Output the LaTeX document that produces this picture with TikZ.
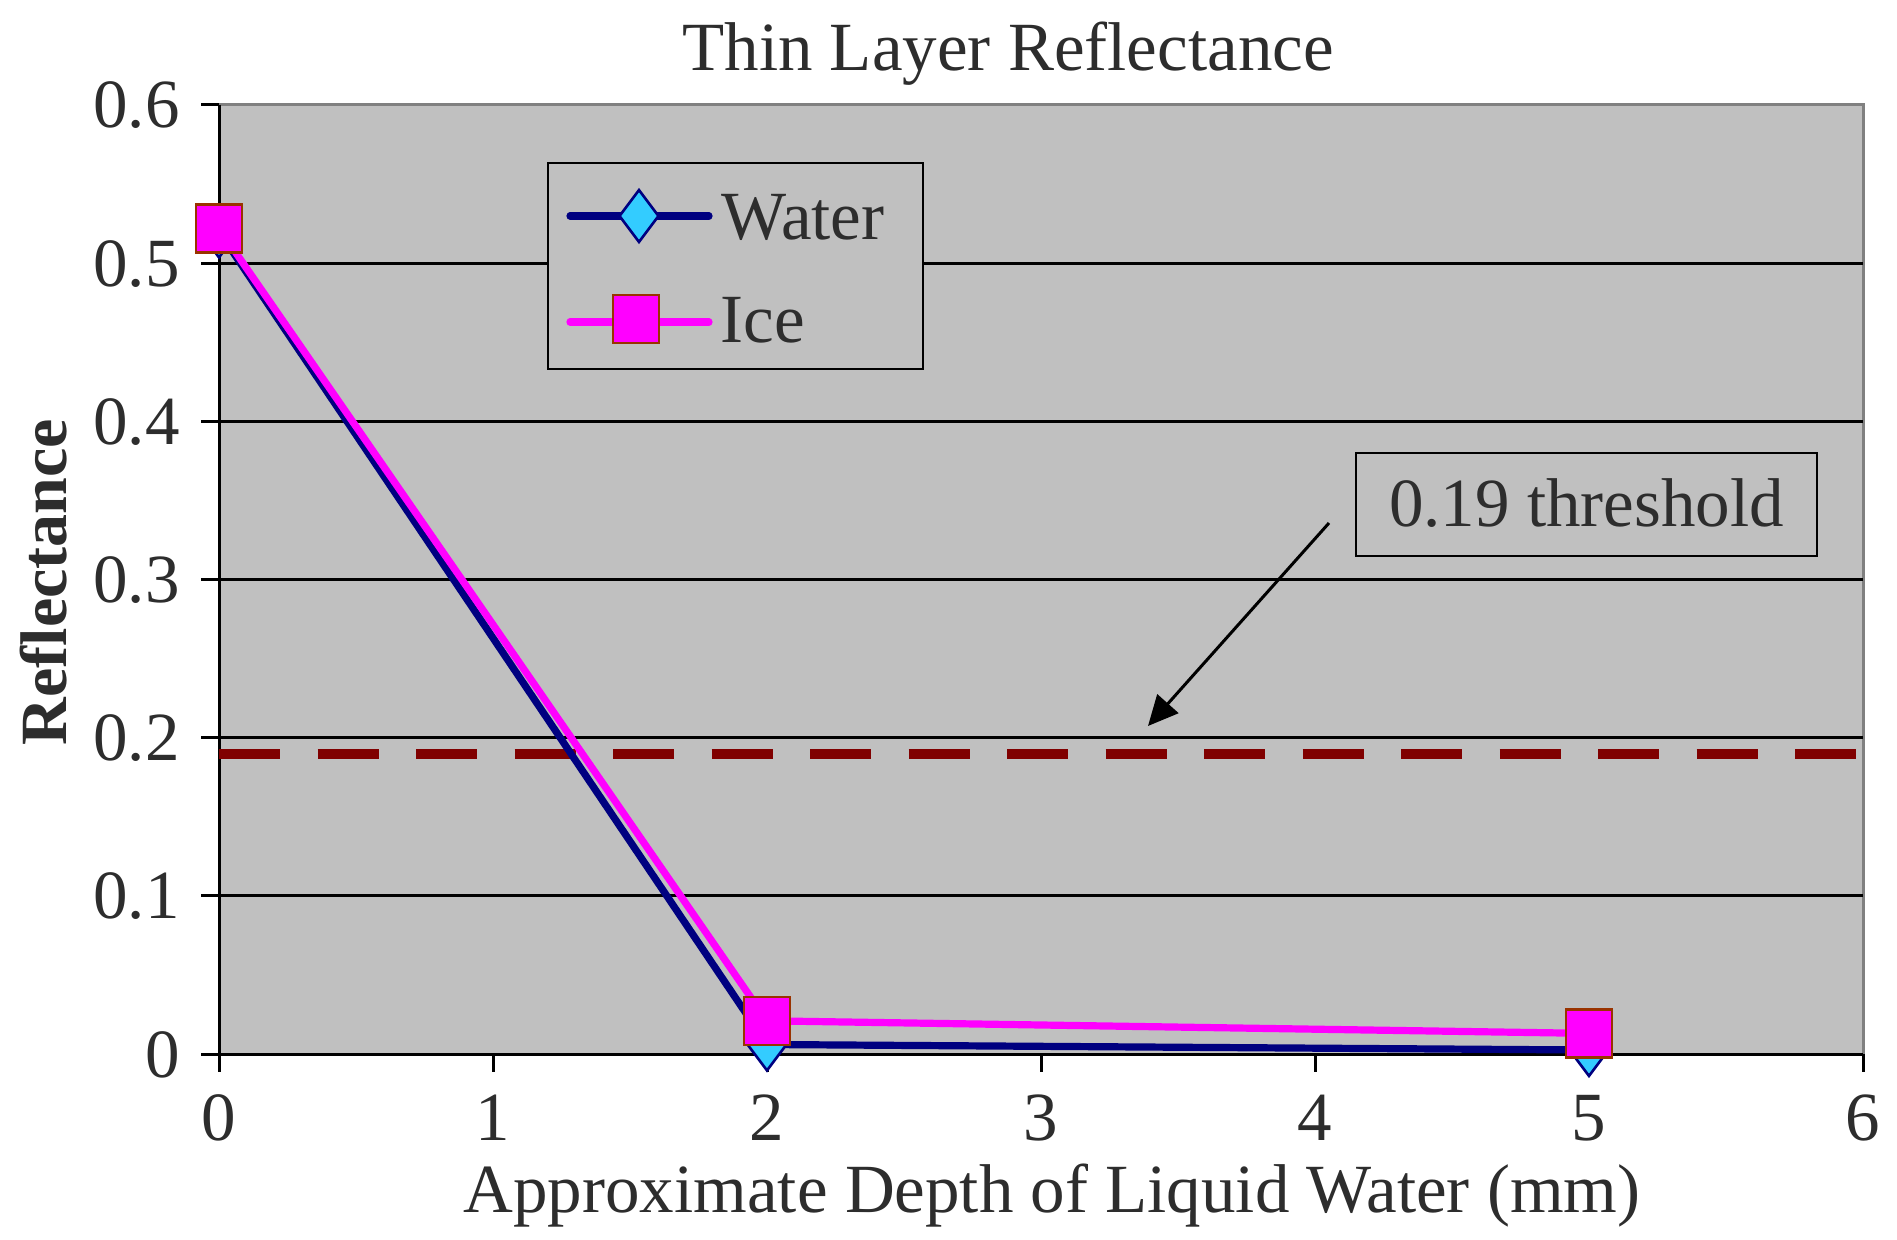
\documentclass[tikz,border=0pt]{standalone}
\usepackage{fontspec}
\setmainfont{Liberation Serif}
\usetikzlibrary{shapes.geometric,arrows.meta}
\definecolor{plotbg}{HTML}{C0C0C0}
\definecolor{framegray}{HTML}{808080}
\definecolor{txt}{HTML}{2D2D2D}
\definecolor{navyline}{HTML}{000080}
\definecolor{wfill}{HTML}{33CCFF}
\definecolor{iceline}{HTML}{FF00FF}
\definecolor{iceedge}{HTML}{993300}
\definecolor{thresh}{HTML}{800000}
\begin{document}
\begin{tikzpicture}[x=0.5pt,y=-0.5pt,
  lbl/.style={text=txt, inner sep=0, font=\fontsize{34.5pt}{40pt}\selectfont},
  gridln/.style={black, line width=1.4pt},
  axisln/.style={black, line width=1.5pt},
  waterln/.style={navyline, line width=3.6pt, line join=round},
  iceln/.style={iceline, line width=3.6pt, line join=round},
  wmark/.style={shape=diamond, draw=navyline, fill=wfill, line width=1.3pt, minimum width=20pt, minimum height=26.5pt, inner sep=0},
  imark/.style={shape=rectangle, draw=iceedge, fill=iceline, line width=1.3pt, minimum width=23pt, minimum height=24pt, inner sep=0},
  framebox/.style={draw=black, fill=plotbg, line width=1.3pt, inner sep=0},
  threshln/.style={thresh, line width=5pt, dash pattern=on 30.5pt off 18.75pt}
]
\useasboundingbox (0,0) rectangle (1897,1240);
\fill[white] (0,0) rectangle (1897,1240);
% plot area
\fill[plotbg] (219,105) rectangle (1863,1054);
\draw[framegray, line width=1.5pt] (219,105) -- (1863,105) -- (1863,1054);
% gridlines
\foreach \y in {895.8,737.7,579.5,421.3,263.2} {
  \draw[gridln] (219,\y) -- (1863,\y);
}
% axes and ticks
\draw[axisln] (219,105) -- (219,1072);
\draw[axisln] (201,1054) -- (1863,1054);
\foreach \y in {105,263.2,421.3,579.5,737.7,895.8} {
  \draw[axisln] (201,\y) -- (219,\y);
}
\foreach \x in {493,767,1041,1315,1589,1863} {
  \draw[axisln] (\x,1054) -- (\x,1072);
}
% tick labels
\foreach \y/\t in {1054/0,895.8/0.1,737.7/0.2,579.5/0.3,421.3/0.4,263.2/0.5,105/0.6} {
  \node[lbl, anchor=base east] at (180,\y+23) {\t};
}
\foreach \x/\t in {219/0,493/1,767/2,1041/3,1315/4,1589/5,1863/6} {
  \node[lbl, anchor=base] at (\x,1140) {\t};
}
% titles
\node[lbl, anchor=base] (title) at (1008,71) {Thin Layer Reflectance};
\node[lbl, anchor=base] (xlab) at (1052,1212) {Approximate Depth of Liquid Water (mm)};
\node[lbl, font=\fontsize{33pt}{38pt}\selectfont\bfseries, rotate=90, anchor=base] (ylab) at (66,582) {Reflectance};
% threshold line
\coordinate (thl) at (219,754);
\coordinate (thr2) at (1862,754);
\draw[threshln] (thl) -- (thr2);
% data
\coordinate (w0) at (219,231.5);
\coordinate (w2) at (767,1044.5);
\coordinate (w5) at (1589,1050);
\coordinate (i0) at (219,228.4);
\coordinate (i2) at (767,1020.8);
\coordinate (i5) at (1589,1033.4);
\draw[waterln] (w0) -- (w2) -- (w5);
\node[wmark] (mw0) at (w0) {};
\node[wmark] (mw2) at (w2) {};
\node[wmark] (mw5) at (w5) {};
\draw[iceln] (i0) -- (i2) -- (i5);
\node[imark] (mi0) at (i0) {};
\node[imark] (mi2) at (i2) {};
\node[imark] (mi5) at (i5) {};
% legend
\node[framebox, minimum width=187.5pt, minimum height=103pt] (legend) at (735.5,266) {};
\coordinate (lwa) at (570,216);
\coordinate (lwb) at (709,216);
\draw[waterln, line cap=round] (lwa) -- (lwb);
\node[wmark] (lwm) at (639,216) {};
\node[lbl, anchor=base west] (lwt) at (721,240) {Water};
\coordinate (lia) at (570,322);
\coordinate (lib) at (709,322);
\draw[iceln, line cap=round] (lia) -- (lib);
\node[imark] (lim) at (636,319) {};
\node[lbl, anchor=base west] (lit) at (720,343) {Ice};
% threshold label and arrow
\node[framebox, lbl, draw=black, fill=plotbg, line width=1.3pt, text height=23.5pt, text depth=1pt, minimum width=230.5pt, minimum height=51.5pt] (thr) at (1586.5,504.5) {0.19 threshold};
\coordinate (arrtail) at (1329,523);
\coordinate (arrtip) at (1148,726);
\draw[black, line width=1.5pt, -{Triangle[length=15pt,width=14pt]}] (arrtail) -- (arrtip);
\end{tikzpicture}
\end{document}
